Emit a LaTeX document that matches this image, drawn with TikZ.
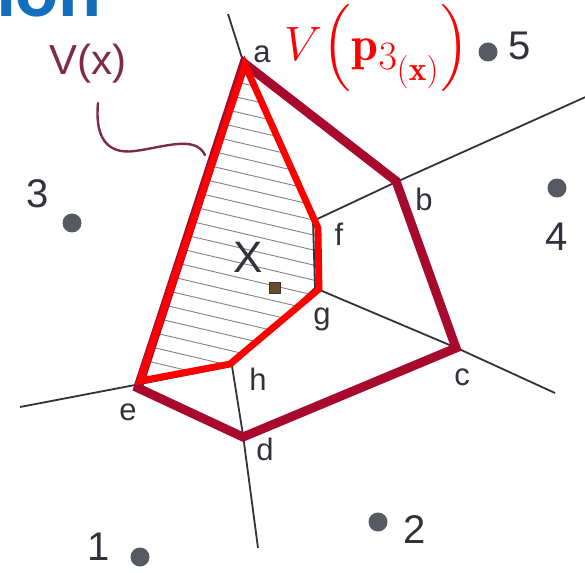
\documentclass[tikz,border=0pt]{standalone}
\usepackage{amsmath}
\usepackage{fontspec}
\newfontfamily\lblfont{Liberation Sans}
\newfontfamily\titlefont{Carlito}
\definecolor{vred}{RGB}{255,0,0}
\definecolor{dred}{RGB}{168,10,45}
\definecolor{ink}{RGB}{50,50,60}
\definecolor{hand}{RGB}{128,42,70}
\definecolor{ttl}{RGB}{20,110,190}
\definecolor{hatchc}{RGB}{130,130,130}
\definecolor{dotc}{RGB}{88,90,98}
\definecolor{sqc}{RGB}{105,75,45}
\tikzset{
  edge/.style={draw=ink, line width=1.8pt},
  hatchline/.style={draw=hatchc, line width=0.9pt},
  outercell/.style={draw=dred, line width=9pt, line join=miter},
  innercell/.style={draw=vred, line width=6.8pt, line join=miter},
  site/.style={circle, fill=dotc, minimum size=19pt, inner sep=0pt},
  vlabel/.style={font=\lblfont\fontsize{31}{34}\selectfont, text=ink, anchor=base, inner sep=0pt},
  slabel/.style={font=\lblfont\fontsize{40}{44}\selectfont, text=ink, anchor=base, inner sep=0pt}
}
\begin{document}
\begin{tikzpicture}[x=1pt,y=-1pt]
\useasboundingbox (0,0) rectangle (585,572);
\clip (0,0) rectangle (585,572);
\fill[white] (0,0) rectangle (585,572);

% title fragment
\node[font=\titlefont\bfseries\fontsize{80}{90}\selectfont, text=ttl, anchor=base east, inner sep=0pt] (title) at (102,17) {tion};

% Voronoi vertices
\coordinate (a) at (243,61);
\coordinate (b) at (394,183);
\coordinate (c) at (459,349);
\coordinate (d) at (243,435);
\coordinate (e) at (135,385);
\coordinate (f) at (313,221);
\coordinate (g) at (315,288);
\coordinate (h) at (232,366);
\coordinate (ta) at (228,14);
\coordinate (tb) at (590,95);
\coordinate (tc) at (555,393);
\coordinate (td) at (258,548);
\coordinate (te) at (20,407);

% outer cell corners
\coordinate (oa) at (244,63);
\coordinate (ob) at (396,181);
\coordinate (oc) at (456,348);
\coordinate (od) at (243,437);
\coordinate (oe) at (138,388);
% inner cell corners
\coordinate (ia) at (245,65);
\coordinate (if) at (318,228);
\coordinate (ig) at (319,289);
\coordinate (ih) at (230,364);
\coordinate (ie) at (140,381);

% hatching
\begin{scope}
\clip (ia) -- (if) -- (ig) -- (ih) -- (ie) -- cycle;
\foreach \k in {0,...,30} {
  \draw[hatchline] (100,{-25+\k*15}) -- ++(320,75);
}
\end{scope}

% thin Voronoi edges
\draw[edge] (ta) -- (a) -- (f) -- (b) -- (tb);
\draw[edge] (f) -- (g) -- (c) -- (tc);
\draw[edge] (g) -- (h) -- (d) -- (td);
\draw[edge] (h) -- (e) -- (te);
\draw[edge] (a) -- (e);
\draw[edge] (a) -- (b) -- (c) -- (d) -- (e);

% cells
\draw[outercell] (oa) -- (ob) -- (oc) -- (od) -- (oe) -- cycle;
\draw[innercell] (ia) -- (if) -- (ig) -- (ih) -- (ie) -- cycle;

% vertex labels
\node[vlabel] (la) at (262,63) {a};
\node[vlabel] (lb) at (424,210) {b};
\node[vlabel] (lc) at (462,385) {c};
\node[vlabel] (ld) at (265,460) {d};
\node[vlabel] (le) at (128,420) {e};
\node[vlabel] (lf) at (339,245) {f};
\node[vlabel] (lg) at (322,324) {g};
\node[vlabel] (lh) at (258,390) {h};

% sites
\node[site] (s1) at (140,557) {};
\node[site] (s2) at (378,522) {};
\node[site] (s3) at (72,223) {};
\node[site] (s4) at (557,188) {};
\node[site] (s5) at (488,52) {};
\node[slabel] (l1) at (99,560) {1};
\node[slabel] (l2) at (415,543) {2};
\node[slabel] (l3) at (38,207) {3};
\node[slabel] (l4) at (557,250) {4};
\node[slabel] (l5) at (520,60) {5};

% query point x
\node[font=\lblfont\fontsize{44}{48}\selectfont, text=ink, inner sep=0pt] (X) at (248,257) {X};
\node[draw=ink, fill=sqc, line width=0.8pt, minimum size=11pt, inner sep=0pt] (q) at (275,288) {};

% V(x) handwritten label and its curve
\node[font=\lblfont\fontsize{42}{46}\selectfont, text=hand, anchor=base west, inner sep=0pt] (vx) at (49,75) {V(x)};
\coordinate (cs) at (98,103);
\coordinate (ce) at (205,155);
\draw[hand, line width=2.4pt, line cap=round] (cs) .. controls (95,135) and (105,155) .. (135,151) .. controls (165,147) and (195,135) .. (ce);

% V(p_3(x)) label
\node[text=vred, inner sep=0pt, font=\fontsize{24.88}{31}\selectfont] (vp) at (377,48) {\scalebox{1.94}{$V\Big(\mathbf{p}_{3_{(\mathbf{x})}}\Big)$}};
\end{tikzpicture}
\end{document}
